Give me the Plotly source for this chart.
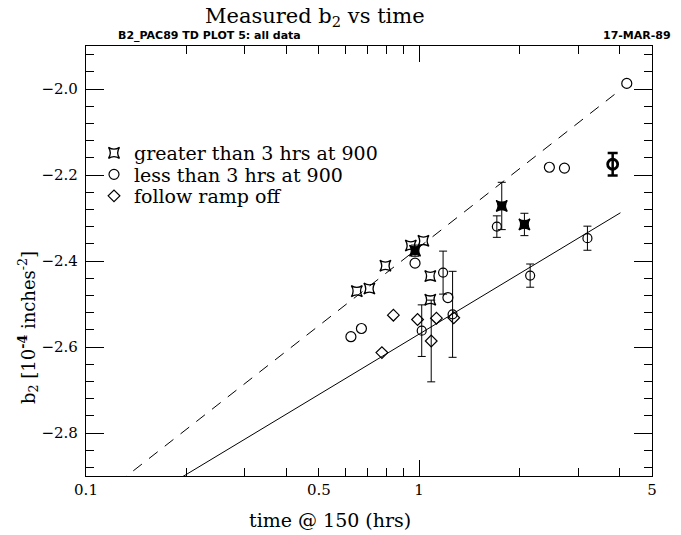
import numpy as np
import plotly.graph_objects as go

# ---------------- data ----------------
# "greater than 3 hrs at 900" (open markers)
gt_x = [0.650, 0.709, 0.792, 0.944, 1.030, 1.080, 1.080]
gt_y = [-2.470, -2.464, -2.411, -2.364, -2.353, -2.435, -2.490]
# "greater than 3 hrs at 900" with error bars (filled markers)
gt_eb_x = [0.972, 1.770, 2.070]
gt_eb_y = [-2.376, -2.272, -2.315]
gt_eb_err = [0.013, 0.055, 0.026]

# "less than 3 hrs at 900"
lt_x = [0.624, 0.671, 0.972, 1.220, 2.460, 2.730, 4.200]
lt_y = [-2.576, -2.557, -2.405, -2.485, -2.182, -2.184, -1.987]
lt_eb_x = [1.180, 1.260, 1.018, 1.711, 2.154, 3.200]
lt_eb_y = [-2.427, -2.524, -2.562, -2.320, -2.434, -2.347]
lt_eb_err = [0.050, 0.100, 0.060, 0.025, 0.027, 0.028]
lt_bold_x = [3.810]
lt_bold_y = [-2.175]
lt_bold_err = [0.026]

# "follow ramp off"
rp_x = [0.773, 0.837, 0.989, 1.127, 1.270]
rp_y = [-2.613, -2.526, -2.536, -2.533, -2.532]
rp_eb_x = [1.087]
rp_eb_y = [-2.586]
rp_eb_err = [0.095]

# straight-line fits  y = a + b*log10(x)
fit_dash_a, fit_dash_b, fit_dash_x = -2.368, 0.606, [0.1, 4.05]
fit_solid_a, fit_solid_b, fit_solid_x = -2.570, 0.467, [0.1, 4.02]

series_names = ["greater than 3 hrs at 900", "less than 3 hrs at 900", "follow ramp off"]

x_ticks = [0.1, 0.5, 1, 5]
x_ticktext = ["0.1", "0.5", "1", "5"]
x_minor = [0.2, 0.3, 0.4, 0.6, 0.7, 0.8, 0.9, 2, 3, 4]
y_ticks = [-2.8, -2.6, -2.4, -2.2, -2.0]

# ---------------- figure ----------------
W, H = 681, 535
ML, MR, MT, MB = 86, 29, 46, 59
PW, PH = W - ML - MR, H - MT - MB


def px2paper(px, py):
    return (px - ML) / PW, 1 - (py - MT) / PH


SERIF = "DejaVu Serif"
K = "black"

fig = go.Figure()


def fit_line(a, b, xs):
    xs = np.array(xs, dtype=float)
    return xs, a + b * np.log10(xs)


fx, fy = fit_line(fit_dash_a, fit_dash_b, fit_dash_x)
fig.add_trace(go.Scatter(x=fx, y=fy, mode="lines", xaxis="x2",
                         line=dict(color=K, width=1, dash="11px,9px"),
                         showlegend=False, hoverinfo="skip"))
fx, fy = fit_line(fit_solid_a, fit_solid_b, fit_solid_x)
fig.add_trace(go.Scatter(x=fx, y=fy, mode="lines",
                         line=dict(color=K, width=1),
                         showlegend=False, hoverinfo="skip"))

eb = dict(type="data", visible=True, color=K, thickness=1, width=4)

# greater than 3 hrs
fig.add_trace(go.Scatter(x=gt_x, y=gt_y, mode="markers",
                         name=series_names[0], legend="legend",
                         marker=dict(symbol="star-square-open", size=10, color=K,
                                     line=dict(color=K, width=1.3))))
fig.add_trace(go.Scatter(x=gt_eb_x, y=gt_eb_y, mode="markers", showlegend=False,
                         error_y=dict(array=gt_eb_err, **eb),
                         marker=dict(symbol="star-square", size=10, color=K,
                                     line=dict(color=K, width=1.3))))
# less than 3 hrs
fig.add_trace(go.Scatter(x=lt_x, y=lt_y, mode="markers",
                         name=series_names[1], legend="legend2",
                         marker=dict(symbol="circle-open", size=10, color=K,
                                     line=dict(color=K, width=1.2))))
fig.add_trace(go.Scatter(x=lt_eb_x, y=lt_eb_y, mode="markers", showlegend=False,
                         error_y=dict(array=lt_eb_err, **eb),
                         marker=dict(symbol="circle-open", size=9, color=K,
                                     line=dict(color=K, width=1.2))))
fig.add_trace(go.Scatter(x=lt_bold_x, y=lt_bold_y, mode="markers", showlegend=False,
                         error_y=dict(array=lt_bold_err, type="data", visible=True,
                                      color=K, thickness=2.5, width=5),
                         marker=dict(symbol="circle-open", size=10, color=K,
                                     line=dict(color=K, width=2.8))))
# follow ramp off
fig.add_trace(go.Scatter(x=rp_x, y=rp_y, mode="markers",
                         name=series_names[2], legend="legend3",
                         marker=dict(symbol="diamond-open", size=9, color=K,
                                     line=dict(color=K, width=1.2))))
fig.add_trace(go.Scatter(x=rp_eb_x, y=rp_eb_y, mode="markers", showlegend=False,
                         error_y=dict(array=rp_eb_err, **eb),
                         marker=dict(symbol="diamond-open", size=9, color=K,
                                     line=dict(color=K, width=1.2))))

xrange = [np.log10(0.1), np.log10(5)]
tickfont = dict(family=SERIF, size=15, color=K)

annotations = []


def ann(text, px, py, size, xanchor="center", family=SERIF, angle=0):
    x, y = px2paper(px, py)
    annotations.append(dict(text=text, x=x, y=y, xref="paper", yref="paper",
                            xanchor=xanchor, yanchor="middle", showarrow=False,
                            textangle=angle,
                            font=dict(family=family, size=size, color=K)))


ann("Measured b<sub>2</sub> vs time", 315, 17, 21)
ann("<b>B2_PAC89 TD PLOT 5: all data</b>", 116, 36, 11, xanchor="left",
    family="DejaVu Sans")
ann("<b>17-MAR-89</b>", 673, 36, 11, xanchor="right", family="DejaVu Sans")
ann("b<sub>2</sub> [10<sup><b>-4</b></sup> inches<sup>-2</sup>]", 28, 327, 18, angle=-90)
ann("time @ 150 (hrs)", 330, 520, 19)


def legend_at(px, py):
    x, y = px2paper(px, py)
    return dict(x=x, y=y, xanchor="left", yanchor="middle",
                bgcolor="rgba(0,0,0,0)", borderwidth=0,
                font=dict(family=SERIF, size=19, color=K),
                itemsizing="trace")


fig.update_layout(
    width=W, height=H,
    margin=dict(l=ML, r=MR, t=MT, b=MB),
    paper_bgcolor="white", plot_bgcolor="white",
    showlegend=True,
    legend=legend_at(94, 153),
    legend2=legend_at(94, 174.5),
    legend3=legend_at(94, 196),
    annotations=annotations,
    xaxis=dict(type="log", range=xrange, tickvals=x_ticks, ticktext=x_ticktext,
               ticks="inside", ticklen=8, tickwidth=1, tickcolor=K,
               showline=True, linecolor=K, linewidth=1.3, mirror="ticks",
               showgrid=False, zeroline=False, tickfont=tickfont,
               minor=dict(tickvals=x_minor, ticks="inside", ticklen=8,
                          tickwidth=1, tickcolor=K, showgrid=False)),
    xaxis2=dict(type="log", range=xrange, overlaying="x", anchor="y", side="bottom",
                tickvals=[1], ticks="inside", ticklen=16, tickwidth=1, tickcolor=K,
                showticklabels=False, showline=False, mirror="ticks",
                showgrid=False, zeroline=False),
    yaxis=dict(range=[-2.9, -1.9], tickvals=y_ticks, tickformat=".1f",
               ticks="inside", ticklen=18, tickwidth=1, tickcolor=K,
               showline=True, linecolor=K, linewidth=1.3, mirror="ticks",
               showgrid=False, zeroline=False, tickfont=tickfont,
               ticklabelstandoff=4,
               minor=dict(dtick=0.04, tick0=-2.8, ticks="inside", ticklen=8,
                          tickwidth=1, tickcolor=K, showgrid=False)),
)

fig.write_html("out.html",
               config={"displayModeBar": False},
               post_script="document.body.style.margin='0';"
                           "document.body.style.overflow='hidden';")
